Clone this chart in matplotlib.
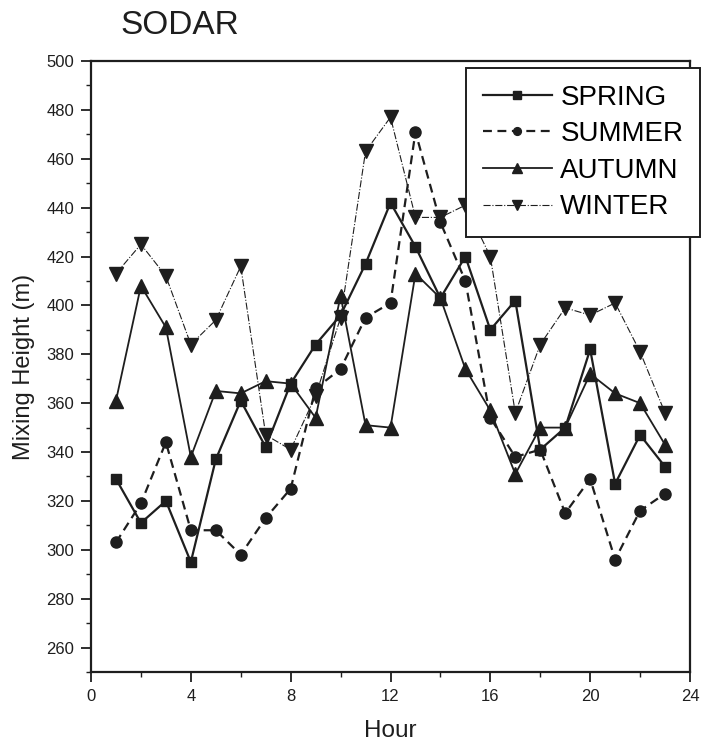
import numpy as np
import matplotlib
matplotlib.use("Agg")
import matplotlib.pyplot as plt
from matplotlib.ticker import MultipleLocator

plt.rcParams['font.family'] = ['Liberation Sans', 'DejaVu Sans']

hours = list(range(1, 24))

spring = [329, 311, 320, 295, 337, 361, 342, 368, 384, 396, 417, 442,
          424, 403, 420, 390, 402, 341, 350, 382, 327, 347, 334]
summer = [303, 319, 344, 308, 308, 298, 313, 325, 366, 374, 395, 401,
          471, 434, 410, 354, 338, 341, 315, 329, 296, 316, 323]
autumn = [361, 408, 391, 338, 365, 364, 369, 368, 354, 404, 351, 350,
          413, 403, 374, 357, 331, 350, 350, 372, 364, 360, 343]
winter = [413, 425, 412, 384, 394, 416, 347, 341, 363, 395, 463, 477,
          436, 436, 441, 420, 356, 384, 399, 396, 401, 381, 356]

season_names = ['SPRING', 'SUMMER', 'AUTUMN', 'WINTER']

ink = '#1e1e1e'

fig = plt.figure(figsize=(7.02, 7.47), dpi=100)
ax = fig.add_axes([91 / 702, 1 - 672 / 747, (690 - 91) / 702, (672 - 61) / 747])

ax.plot(hours, spring, color=ink, lw=1.6, ls='-', marker='s', ms=7.5,
        label=season_names[0])
ax.plot(hours, summer, color=ink, lw=1.6, ls=(0, (4, 2.5)), marker='o', ms=8,
        label=season_names[1])
ax.plot(hours, autumn, color=ink, lw=1.3, ls='-', marker='^', ms=9.5,
        label=season_names[2])
ax.plot(hours, winter, color=ink, lw=0.8, ls='-.', marker='v', ms=9.5,
        label=season_names[3])

ax.set_xlim(0, 24)
ax.set_ylim(250, 500)
ax.xaxis.set_major_locator(MultipleLocator(4))
ax.xaxis.set_minor_locator(MultipleLocator(2))
ax.yaxis.set_minor_locator(MultipleLocator(10))
ax.set_yticks(np.arange(260, 501, 20))

ax.tick_params(which='major', direction='out', length=7, width=1.3,
               labelsize=12, colors=ink, pad=5)
ax.tick_params(which='minor', direction='out', length=3.5, width=1.0, colors=ink)
for s in ax.spines.values():
    s.set_linewidth(1.6)
    s.set_color(ink)

ax.set_xlabel('Hour', fontsize=17.5, color=ink, labelpad=12)
ax.set_ylabel('Mixing Height (m)', fontsize=17, color=ink, labelpad=8)

fig.text(120 / 702, 1 - 26 / 747, 'SODAR', fontsize=24, color=ink,
         ha='left', va='center')

leg = ax.legend(loc='upper right', bbox_to_anchor=(700 / 702, 1 - 68 / 747),
                bbox_transform=fig.transFigure, borderaxespad=0,
                fontsize=20, handlelength=2.5, handletextpad=0.3,
                labelspacing=0.38, borderpad=0.6, fancybox=False,
                framealpha=1, edgecolor=ink, markerscale=0.7)
leg.get_frame().set_linewidth(1.4)

fig.savefig('out.png', dpi=100)
